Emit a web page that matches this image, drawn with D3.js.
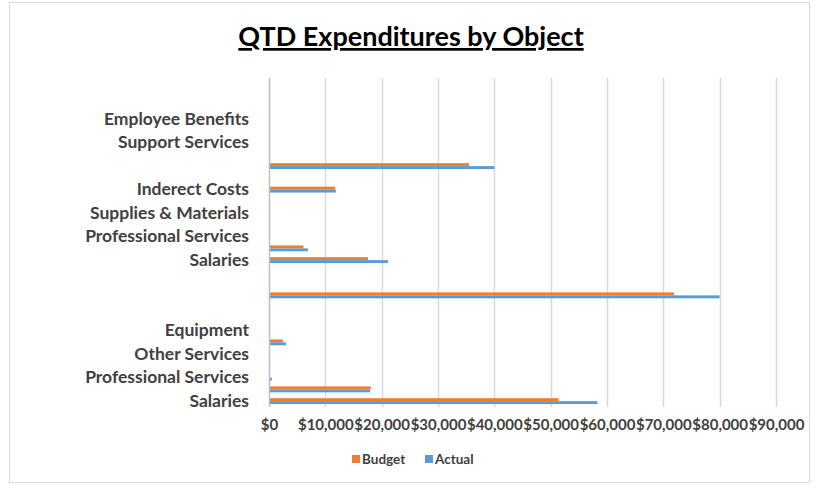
<!DOCTYPE html>
<html>
<head>
<meta charset="utf-8">
<script src="https://cdn.jsdelivr.net/npm/d3@7"></script>
<style>
  html, body { margin: 0; padding: 0; background: #fff; }
  svg { display: block; }
  text { font-family: Lato, "Open Sans", sans-serif; }
</style>
</head>
<body>
<svg id="chart" width="818" height="496"></svg>
<script>
// Categories listed from bottom (index 0) to top; Excel only shows every second label.
const categories = [
  "Salaries", "", "Professional Services", "", "Other Services", "", "Equipment", "",
  "", "", "", "", "Salaries", "", "Professional Services", "", "Supplies & Materials", "",
  "Inderect Costs", "", "", "", "Support Services", "", "Employee Benefits", "", "", ""
];
const budget = [
  51400, 18050, 0, 0, 0, 2450, 0, 0,
  0, 71900, 0, 0, 17600, 6100, 0, 0, 0, 0,
  11750, 0, 35500, 0, 0, 0, 0, 0, 0, 0
];
const actual = [
  58300, 17950, 500, 0, 0, 3000, 0, 0,
  0, 80000, 0, 0, 21100, 6900, 0, 0, 0, 0,
  11850, 0, 40000, 0, 0, 0, 0, 0, 0, 0
];
const seriesNames = ["Budget", "Actual"];
const seriesColors = ["#ED7D31", "#5B9BD5"];
const xTicks = [0, 10000, 20000, 30000, 40000, 50000, 60000, 70000, 80000, 90000];
const title = "QTD Expenditures by Object";

const svg = d3.select("#chart");
const plot = { left: 269, right: 776, top: 78, bottom: 407 };

// chart border
svg.append("rect")
  .attr("x", 9.5).attr("y", 2.5).attr("width", 800).attr("height", 480)
  .attr("fill", "#fff").attr("stroke", "#d9d9d9").attr("stroke-width", 1);

// title
svg.append("text")
  .attr("x", 411).attr("y", 46)
  .attr("text-anchor", "middle")
  .attr("font-size", 27).attr("font-weight", 700)
  .attr("fill", "#000")
  .style("text-decoration", "underline")
  .text(title);

const x = d3.scaleLinear().domain([0, 90000]).range([plot.left, plot.right]);
const idx = d3.range(categories.length);
const y = d3.scaleBand().domain(idx).range([plot.bottom, plot.top])
  .paddingInner(0.5).paddingOuter(0.25);
const ySub = d3.scaleBand().domain(seriesNames).range([0, y.bandwidth()]);

// gridlines
svg.append("g").selectAll("line").data(xTicks.slice(1)).join("line")
  .attr("x1", d => Math.round(x(d)) + 0.5).attr("x2", d => Math.round(x(d)) + 0.5)
  .attr("y1", plot.top).attr("y2", plot.bottom)
  .attr("stroke", "#d9d9d9").attr("stroke-width", 1.5);

// bars
const seriesData = [budget, actual];
seriesNames.forEach((s, si) => {
  svg.append("g").selectAll("rect")
    .data(idx.filter(i => seriesData[si][i] > 0))
    .join("rect")
    .attr("x", x(0))
    .attr("y", i => y(i) + ySub(s))
    .attr("width", i => x(seriesData[si][i]) - x(0))
    .attr("height", ySub.bandwidth())
    .attr("fill", seriesColors[si]);
});

// category axis line
svg.append("line")
  .attr("x1", x(0) + 0.5).attr("x2", x(0) + 0.5)
  .attr("y1", plot.top).attr("y2", plot.bottom)
  .attr("stroke", "#bfbfbf").attr("stroke-width", 1.5);

// category labels (every second category, as Excel shows)
const yAxis = d3.axisLeft(y)
  .tickValues(idx.filter(i => i % 2 === 0))
  .tickFormat(i => categories[i])
  .tickSize(0).tickPadding(20);
const gy = svg.append("g").attr("transform", `translate(${x(0)},0)`).call(yAxis);
gy.select(".domain").remove();
gy.selectAll("text")
  .attr("font-family", "Lato, sans-serif")
  .attr("font-size", 17.5).attr("font-weight", 700).attr("fill", "#404040");

// value axis labels
const xAxis = d3.axisBottom(x).tickValues(xTicks)
  .tickFormat(d => "$" + d3.format(",")(d)).tickSize(0).tickPadding(12);
const gx = svg.append("g").attr("transform", `translate(0,${plot.bottom})`).call(xAxis);
gx.select(".domain").remove();
gx.selectAll("text")
  .attr("font-family", "Lato, sans-serif")
  .attr("font-size", 15).attr("font-weight", 700).attr("fill", "#404040");

// legend
const legendX = [352, 425];
seriesNames.forEach((s, si) => {
  const g = svg.append("g").attr("transform", `translate(${legendX[si]},455)`);
  g.append("rect").attr("x", 0).attr("y", 0).attr("width", 8).attr("height", 8)
    .attr("fill", seriesColors[si]);
  g.append("text").attr("x", 10).attr("y", 8.5)
    .attr("font-size", 13.5).attr("font-weight", 700).attr("fill", "#404040")
    .text(s);
});
</script>
</body>
</html>
